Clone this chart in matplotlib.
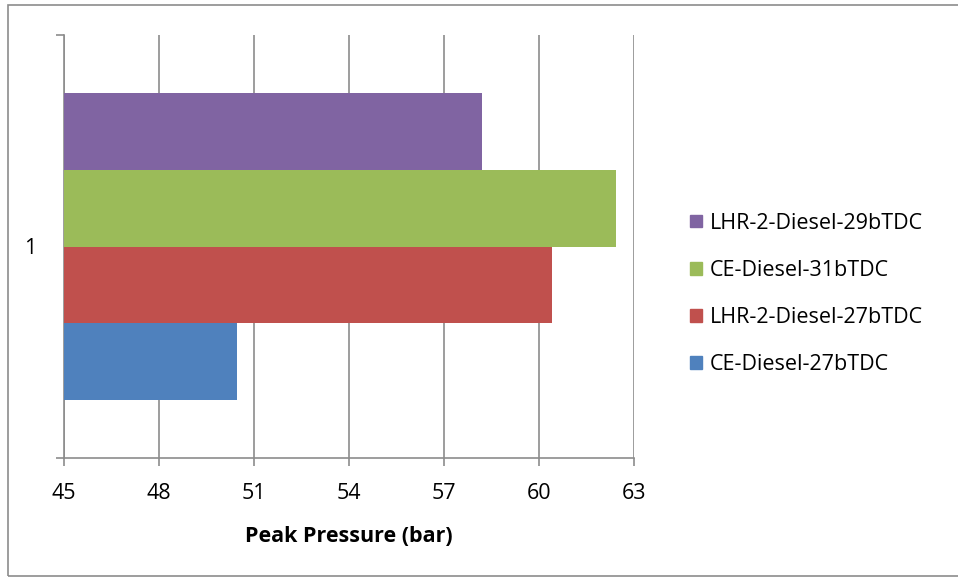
import matplotlib
matplotlib.use("Agg")
import matplotlib.pyplot as plt
from matplotlib.patches import Rectangle, Patch

category = ["1"]
series_names = ["CE-Diesel-27bTDC", "LHR-2-Diesel-27bTDC", "CE-Diesel-31bTDC", "LHR-2-Diesel-29bTDC"]
series_values = [50.45, 60.4, 62.42, 58.2]
series_colors = ["#4F81BD", "#C0504D", "#9BBB59", "#8064A2"]
x_ticks = [45, 48, 51, 54, 57, 60, 63]
x_label = "Peak Pressure (bar)"
x_min = 45

plt.rcParams['font.family'] = ['Open Sans', 'DejaVu Sans']

W, H = 958, 578
fig = plt.figure(figsize=(W / 100, H / 100), dpi=100)
ax = fig.add_axes([64 / W, 1 - 458 / H, (634 - 64) / W, (458 - 35) / H])

grid_c = "#8c8c8c"
fs = 15.5
h = 0.182
n = len(series_names)
for i, (name, val, col) in enumerate(zip(series_names, series_values, series_colors)):
    off = (i - (n - 1) / 2) * h
    ax.barh(0 + off, val - x_min, left=x_min, height=h, color=col, label=name, zorder=3)

ax.set_xlim(x_ticks[0], x_ticks[-1])
ax.set_ylim(-0.5, 0.5)
ax.set_xticks(x_ticks)
ax.set_xticklabels([str(t) for t in x_ticks], fontsize=fs)
ax.xaxis.grid(True, color=grid_c, lw=1.2, zorder=0)
ax.set_axisbelow(True)

ax.set_yticks([0])
ax.set_yticklabels(category, fontsize=fs)
ax.set_yticks([-0.5, 0.5], minor=True)
ax.tick_params(axis='y', which='major', length=0, pad=20)
ax.tick_params(axis='y', which='minor', length=6, width=1.2, color=grid_c, direction='out')
ax.tick_params(axis='x', which='major', length=6, width=1.2, color=grid_c, direction='out', pad=12)

for s in ['top', 'right']:
    ax.spines[s].set_visible(False)
for s in ['left', 'bottom']:
    ax.spines[s].set_color(grid_c)
    ax.spines[s].set_linewidth(1.2)

ax.set_xlabel(x_label, fontsize=fs, fontweight='bold', labelpad=16)

handles = [Patch(color=c) for c in series_colors][::-1]
labels = series_names[::-1]
fig.legend(handles, labels, loc='center left', bbox_to_anchor=(671 / W, 1 - 294 / H),
           frameon=False, fontsize=fs, handlelength=0.55, handleheight=0.55,
           handletextpad=0.35, labelspacing=1.22)

fig.patches.append(Rectangle((8 / W, 2 / H), 1.2, 1 - 7 / H, transform=fig.transFigure,
                             fill=False, edgecolor="#8c8c8c", lw=1.2))

fig.savefig("out.png", dpi=100, facecolor="white")
